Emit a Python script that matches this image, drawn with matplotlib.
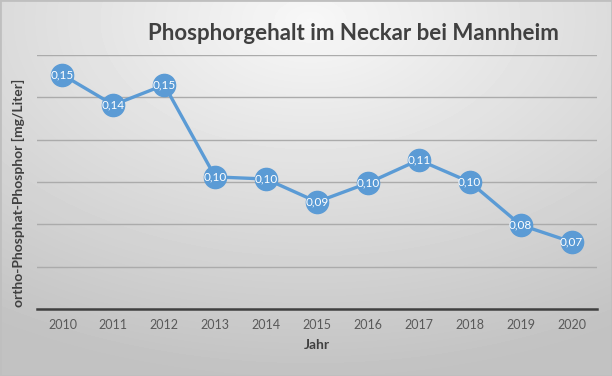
import matplotlib.pyplot as plt
import numpy as np

years = ["2010", "2011", "2012", "2013", "2014", "2015", "2016", "2017", "2018", "2019", "2020"]
phosphor = [0.1506, 0.1364, 0.1458, 0.1024, 0.1014, 0.0906, 0.0995, 0.1104, 0.1000, 0.0797, 0.0717]

plt.rcParams["font.family"] = ["Lato", "DejaVu Sans"]

fig = plt.figure(figsize=(6.12, 3.76), dpi=100)

# radial gray background, light near the title
bg = fig.add_axes([0, 0, 1, 1], zorder=-1)
yy, xx = np.mgrid[0:376, 0:612]
r = np.sqrt(((xx - 310) / 612.0) ** 2 + ((yy - 20) / 376.0) ** 2)
shade = np.clip(0.97 - 0.22 * r, 0.76, 0.97)
bg.imshow(shade, cmap="gray", vmin=0, vmax=1, aspect="auto", extent=(0, 1, 0, 1))
bg.set_xlim(0, 1)
bg.set_ylim(0, 1)
bg.plot([0, 1, 1, 0, 0], [0, 0, 1, 1, 0], color="#bfbfbf", lw=2)
bg.axis("off")

ax = fig.add_axes([0.0605, 0.178, 0.915, 0.676])
ax.patch.set_alpha(0)
x = np.arange(len(years))
ax.plot(x, phosphor, color="#5b9bd5", lw=2.4, marker="o", markersize=16,
        markerfacecolor="#5b9bd5", markeredgecolor="#5b9bd5", zorder=3)
for xi, v in zip(x, phosphor):
    ax.text(xi, v, f"{v:.2f}".replace(".", ","), color="white", fontsize=8.5,
            ha="center", va="center", zorder=4)

ax.set_xlim(-0.5, len(years) - 0.5)
ax.set_ylim(0.04, 0.16)
ax.set_yticks(np.arange(0.04, 0.161, 0.02))
ax.set_yticklabels([])
ax.tick_params(axis="y", length=0)
ax.grid(axis="y", color="#ababab", lw=1)
ax.set_axisbelow(True)
ax.set_xticks(x)
ax.set_xticklabels(years, color="#595959", fontsize=9)
ax.tick_params(axis="x", length=0, pad=7)
for s in ["top", "right", "left"]:
    ax.spines[s].set_visible(False)
ax.spines["bottom"].set_color("#404040")
ax.spines["bottom"].set_linewidth(1.8)

ax.set_xlabel("Jahr", fontsize=10, fontweight="bold", color="#404040", labelpad=6)
fig.text(0.03, 0.487, "ortho-Phosphat-Phosphor [mg/Liter]", rotation=90, fontsize=10,
         fontweight="bold", color="#404040", ha="center", va="center")
fig.text(0.577, 0.912, "Phosphorgehalt im Neckar bei Mannheim", fontsize=16,
         fontweight="bold", color="#404040", ha="center", va="center")

fig.savefig("out.png", dpi=100)
